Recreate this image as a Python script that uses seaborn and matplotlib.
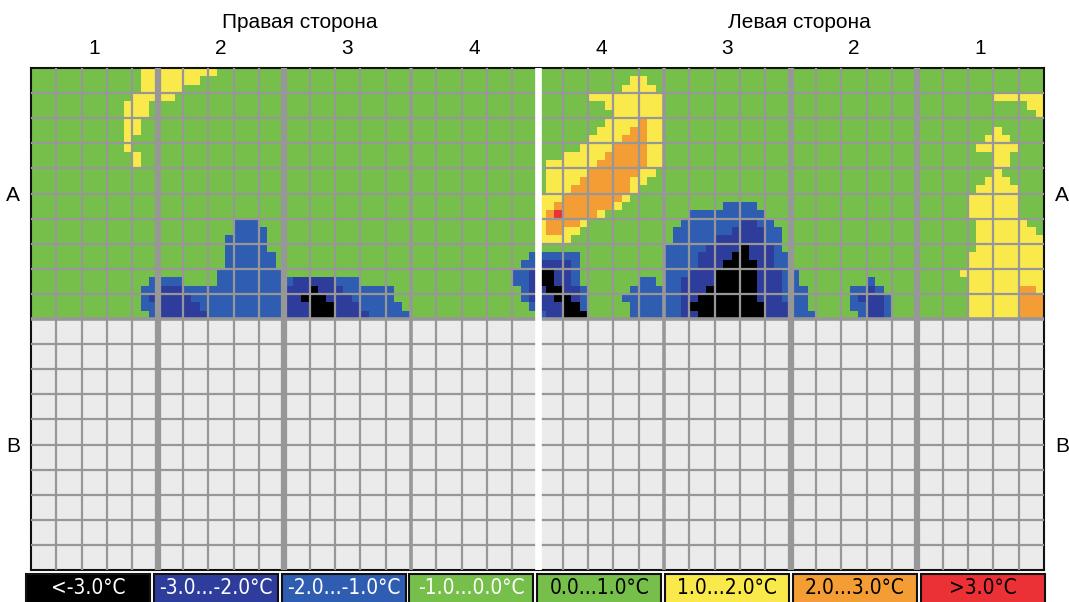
import os
import numpy as np
import matplotlib
matplotlib.use('Agg')
import matplotlib.pyplot as plt
from matplotlib.colors import ListedColormap
from matplotlib.patches import Rectangle
from matplotlib import font_manager
import seaborn as sns

# Thermogram grid: 8 sections x 5 cells wide, zones A and B x 10 cells high,
# every cell measured as 3x3 points -> 120 columns, 30 rows per zone
n_cols = 120
n_rows_zone = 30

section_labels = ['1', '2', '3', '4', '4', '3', '2', '1']
zone_labels = ['А', 'В']
side_titles = ['Правая сторона', 'Левая сторона']

class_labels = ['<-3.0°C', '-3.0...-2.0°C', '-2.0...-1.0°C', '-1.0...0.0°C',
                '0.0...1.0°C', '1.0...2.0°C', '2.0...3.0°C', '>3.0°C']
class_colors = ['#000000', '#2e3d9b', '#2f5db1', '#76bf4a',
                '#76bf4a', '#f9e94b', '#f49d34', '#ec3136']
class_text_colors = ['white', 'white', 'white', 'white',
                     'black', 'black', 'black', 'black']
background_class = 4

# zone A readings per temperature class: (row, first column, last column)
blue_spans = [
    (18, 24, 26), (19, 24, 27), (20, 23, 27), (21, 23, 27), (22, 23, 28), (23, 23, 28),
    (24, 22, 29), (25, 14, 17), (25, 22, 29), (26, 13, 29), (27, 13, 29), (28, 13, 29),
    (29, 14, 29),
    (25, 30, 38), (26, 30, 42), (27, 30, 42), (28, 30, 43), (29, 30, 44),
    (22, 59, 64), (23, 58, 64), (24, 57, 64), (25, 57, 64), (26, 58, 65), (27, 58, 65),
    (28, 59, 65), (29, 60, 65),
    (25, 72, 73), (26, 71, 74), (27, 70, 74), (28, 71, 74), (29, 71, 74),
    (16, 82, 85), (17, 78, 86), (18, 77, 87), (19, 76, 88), (20, 76, 88), (21, 75, 88),
    (22, 75, 89), (23, 75, 89), (24, 75, 90), (25, 75, 90), (26, 75, 91), (27, 74, 91),
    (28, 74, 91), (29, 74, 92),
    (25, 99, 99), (26, 97, 100), (27, 97, 101), (28, 97, 101), (29, 98, 101),
]
dark_blue_spans = [
    (26, 15, 17), (27, 14, 18), (28, 15, 19), (29, 15, 20),
    (25, 31, 35), (26, 30, 36), (27, 30, 37), (28, 30, 38), (29, 30, 39),
    (23, 60, 63), (24, 59, 63), (25, 59, 63), (26, 59, 64), (27, 59, 64), (28, 60, 64),
    (29, 61, 64),
    (18, 84, 85), (19, 83, 86), (20, 81, 86), (21, 80, 87), (22, 79, 87), (23, 79, 87),
    (24, 78, 88), (25, 77, 88), (26, 77, 88), (27, 77, 88), (28, 77, 89), (29, 77, 89),
    (26, 99, 99), (27, 98, 100), (28, 99, 100), (29, 99, 100),
]
black_spans = [
    (26, 33, 33), (27, 32, 34), (28, 33, 35), (29, 33, 35),
    (24, 60, 61), (25, 60, 61), (26, 61, 62), (27, 62, 63), (28, 63, 64), (29, 63, 65),
    (21, 84, 84), (22, 83, 84), (23, 82, 85), (24, 81, 85), (25, 81, 85), (26, 80, 85),
    (27, 79, 85), (28, 78, 86), (29, 79, 86),
]
yellow_spans = [
    (0, 13, 21), (1, 13, 19), (2, 13, 17), (3, 12, 16), (4, 11, 13), (5, 11, 13),
    (6, 11, 12), (7, 11, 12), (8, 11, 11), (9, 11, 11), (10, 12, 12), (11, 12, 12),
    (1, 71, 72), (2, 70, 73), (3, 66, 74), (4, 68, 74), (5, 69, 74), (6, 68, 74),
    (7, 67, 74), (8, 66, 74), (9, 65, 74), (10, 63, 74), (11, 61, 74), (12, 61, 73),
    (13, 61, 72), (14, 61, 71), (15, 60, 70), (16, 60, 69), (17, 60, 67), (18, 60, 65),
    (19, 60, 64), (20, 60, 63),
    (3, 114, 119), (4, 118, 119), (5, 119, 119), (7, 114, 114), (8, 113, 115),
    (9, 112, 116), (10, 114, 115), (11, 114, 115), (12, 114, 114), (13, 113, 115),
    (14, 112, 116), (15, 111, 116), (16, 111, 116), (17, 111, 116), (18, 112, 117),
    (19, 112, 118), (20, 112, 119), (21, 112, 119), (22, 111, 119), (23, 111, 119),
    (24, 110, 119), (25, 111, 119), (26, 111, 119), (27, 111, 119), (28, 111, 119),
    (29, 111, 119),
]
orange_spans = [
    (6, 72, 72), (7, 71, 72), (8, 70, 72), (9, 69, 72), (10, 68, 72), (11, 67, 72),
    (12, 66, 71), (13, 65, 70), (14, 64, 70), (15, 63, 69), (16, 62, 68), (17, 61, 66),
    (18, 61, 64), (19, 61, 62),
    (26, 117, 118), (27, 117, 119), (28, 117, 119), (29, 117, 119),
]
red_spans = [(17, 62, 62)]

# build the class matrix; zone B has no readings
grid = np.full((2 * n_rows_zone, n_cols), np.nan)
grid[:n_rows_zone, :] = background_class
for level, spans in [(2, blue_spans), (1, dark_blue_spans), (0, black_spans),
                     (5, yellow_spans), (6, orange_spans), (7, red_spans)]:
    for row, c0, c1 in spans:
        grid[row, c0:c1 + 1] = level

plt.rcParams['font.family'] = ['Liberation Sans', 'DejaVu Sans']

# legend text is narrow in the original: use a condensed face if one is installed
narrow_file = None
for wanted in ['LiberationSansNarrow-Regular', 'DejaVuSansCondensed.ttf']:
    for f in font_manager.fontManager.ttflist:
        if wanted in os.path.basename(f.fname):
            narrow_file = f.fname
            break
    if narrow_file:
        break
if narrow_file:
    legend_kw = dict(fontproperties=font_manager.FontProperties(fname=narrow_file, size=15))
else:
    legend_kw = dict(fontsize=13)

W, H = 1069, 602
fig = plt.figure(figsize=(W / 100, H / 100), dpi=100)
ax = fig.add_axes([31 / W, 1 - 570 / H, 1013 / W, 502 / H])
ax.set_facecolor('#ebebeb')

sns.heatmap(grid, ax=ax, cmap=ListedColormap(class_colors), vmin=-0.5, vmax=7.5,
            cbar=False, xticklabels=False, yticklabels=False)

# cell grid
grid_color = '#979797'
for x in range(3, n_cols, 3):
    if x % 15 == 0:
        continue
    ax.axvline(x, color=grid_color, lw=1.6, zorder=3)
for y in range(3, 2 * n_rows_zone, 3):
    ax.axhline(y, color=grid_color, lw=2.6 if y == n_rows_zone else 1.6, zorder=3)
for x in [15, 30, 90, 105]:
    ax.axvline(x, color=grid_color, lw=4.5, zorder=4)
for x in [45, 75]:
    ax.axvline(x, color=grid_color, lw=2.6, zorder=4)
ax.axvline(60, color='white', lw=4.8, zorder=5)

for s in ax.spines.values():
    s.set_visible(True)
    s.set_color('#111111')
    s.set_linewidth(1.5)

ax.set_xticks(np.arange(7.5, n_cols, 15))
ax.set_xticklabels(section_labels, fontsize=15)
ax.xaxis.tick_top()
ax.tick_params(axis='x', length=0, pad=7)
ax.set_yticks([n_rows_zone / 2, n_rows_zone * 1.5])
ax.set_yticklabels(zone_labels, rotation=0, fontsize=15)
ax.tick_params(axis='y', length=0, pad=8, left=True, right=True,
               labelleft=True, labelright=True)

fig.text(300 / W, 1 - 22 / H, side_titles[0], ha='center', va='center', fontsize=15)
fig.text(799 / W, 1 - 22 / H, side_titles[1], ha='center', va='center', fontsize=15)

# legend strip
box_w, pitch, x0 = 124, 127.8, 26
for i, (lab, col, tcol) in enumerate(zip(class_labels, class_colors, class_text_colors)):
    left = x0 + i * pitch
    fig.add_artist(Rectangle((left / W, -0.01), box_w / W, 0.01 + 1 - 574 / H,
                             transform=fig.transFigure, facecolor=col,
                             edgecolor='#111111', lw=1.5))
    fig.text((left + box_w / 2) / W, 1 - 588 / H, lab, ha='center', va='center',
             color=tcol, **legend_kw)

fig.savefig('out.png', dpi=100)
